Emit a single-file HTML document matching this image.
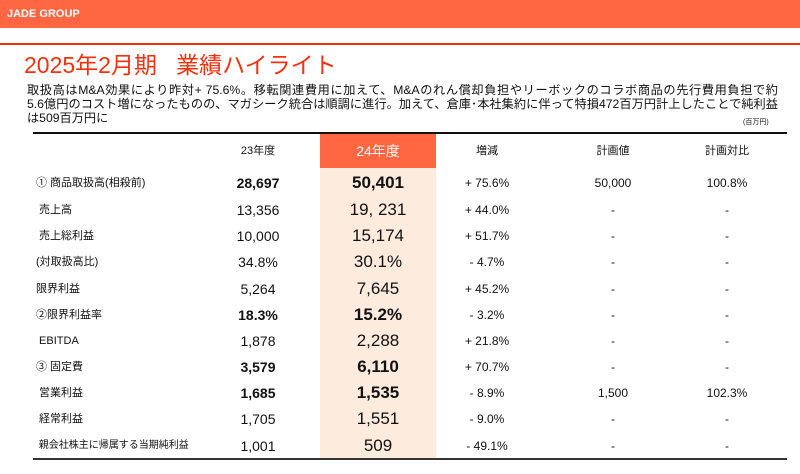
<!DOCTYPE html><html><head><meta charset="utf-8"><style>
body{margin:0;width:800px;height:474px;background:#fff;position:relative;overflow:hidden;font-family:"Liberation Sans","Noto Sans CJK JP",sans-serif;color:#111}
.bar{position:absolute;left:0;top:0;width:800px;height:28px;background:#FF6641}
.bar span{position:absolute;left:7px;top:8px;color:#fff;font-size:11px;font-weight:bold}
.rl{position:absolute;left:0;top:43px;width:800px;height:2px;background:#F5300F}
.t{position:absolute;left:24px;top:46px;font-size:23px;color:#F5300F;white-space:nowrap}
.pl{position:absolute;left:27px;width:751px;font-size:12.2px;line-height:14px;white-space:nowrap;text-align:justify;text-align-last:justify;overflow:hidden}
.u{position:absolute;left:743px;top:117px;font-size:7px}
.hl{position:absolute;left:33px;top:132px;width:754px;height:2px;background:#111}
.bl{position:absolute;left:33px;top:458px;width:754px;height:2px;background:#333}
.col{position:absolute;left:320px;top:134px;width:116px;height:324px;background:#FDEBDD}
.colh{position:absolute;left:320px;top:134px;width:116px;height:34px;background:#FF6641;color:#fff;font-size:14px;text-align:center;line-height:34px}
.r{position:absolute;left:0;width:800px;height:26px;font-size:12px}
.r div{position:absolute;top:0;line-height:26px;white-space:nowrap}
.l{left:36px;font-size:11px}
.a{left:208px;width:100px;text-align:center;font-size:14px}
.b{left:320px;width:116px;text-align:center;font-size:17px}
.c{left:437px;width:100px;text-align:center}
.d{left:563px;width:100px;text-align:center}
.e{left:677px;width:100px;text-align:center}
.bo .a,.bo .b{font-weight:bold}
.h div{font-size:11px}
</style></head><body>
<div class="bar"><span>JADE GROUP</span></div>
<div class="rl"></div>
<div class="t">2025年2月期&nbsp;&nbsp;&nbsp;業績ハイライト</div>
<div class="pl" style="top:83px">取扱高はM&amp;A効果により昨対+ 75.6%。移転関連費用に加えて、M&amp;Aのれん償却負担やリーボックのコラボ商品の先行費用負担で約</div>
<div class="pl" style="top:97px">5.6億円のコスト増になったものの、マガシーク統合は順調に進行。加えて、倉庫･本社集約に伴って特損472百万円計上したことで純利益</div>
<div class="pl" style="top:111px;text-align-last:left">は509百万円に</div>
<div class="u">(百万円)</div>
<div class="col"></div><div class="colh">24年度</div>
<div class="hl"></div><div class="bl"></div>
<div class="r h" style="top:138px"><div class="a" style="font-size:11px">23年度</div><div class="c">増減</div><div class="d">計画値</div><div class="e">計画対比</div></div>
<div class="r bo" style="top:170px"><div class="l">① 商品取扱高(相殺前)</div><div class="a">28,697</div><div class="b">50,401</div><div class="c">+ 75.6%</div><div class="d">50,000</div><div class="e">100.8%</div></div>
<div class="r" style="top:197px"><div class="l">&nbsp;売上高</div><div class="a">13,356</div><div class="b">19, 231</div><div class="c">+ 44.0%</div><div class="d">-</div><div class="e">-</div></div>
<div class="r" style="top:223px"><div class="l">&nbsp;売上総利益</div><div class="a">10,000</div><div class="b">15,174</div><div class="c">+ 51.7%</div><div class="d">-</div><div class="e">-</div></div>
<div class="r" style="top:249px"><div class="l">(対取扱高比)</div><div class="a">34.8%</div><div class="b">30.1%</div><div class="c">- 4.7%</div><div class="d">-</div><div class="e">-</div></div>
<div class="r" style="top:276px"><div class="l">限界利益</div><div class="a">5,264</div><div class="b">7,645</div><div class="c">+ 45.2%</div><div class="d">-</div><div class="e">-</div></div>
<div class="r bo" style="top:302px"><div class="l">②限界利益率</div><div class="a">18.3%</div><div class="b">15.2%</div><div class="c">- 3.2%</div><div class="d">-</div><div class="e">-</div></div>
<div class="r" style="top:328px"><div class="l">&nbsp;EBITDA</div><div class="a">1,878</div><div class="b">2,288</div><div class="c">+ 21.8%</div><div class="d">-</div><div class="e">-</div></div>
<div class="r bo" style="top:354px"><div class="l">③ 固定費</div><div class="a">3,579</div><div class="b">6,110</div><div class="c">+ 70.7%</div><div class="d">-</div><div class="e">-</div></div>
<div class="r bo" style="top:380px"><div class="l">&nbsp;営業利益</div><div class="a">1,685</div><div class="b">1,535</div><div class="c">- 8.9%</div><div class="d">1,500</div><div class="e">102.3%</div></div>
<div class="r" style="top:406px"><div class="l">&nbsp;経常利益</div><div class="a">1,705</div><div class="b">1,551</div><div class="c">- 9.0%</div><div class="d">-</div><div class="e">-</div></div>
<div class="r" style="top:433px"><div class="l" style="font-size:10px">&nbsp;親会社株主に帰属する当期純利益</div><div class="a">1,001</div><div class="b">509</div><div class="c">- 49.1%</div><div class="d">-</div><div class="e">-</div></div>
</body></html>
